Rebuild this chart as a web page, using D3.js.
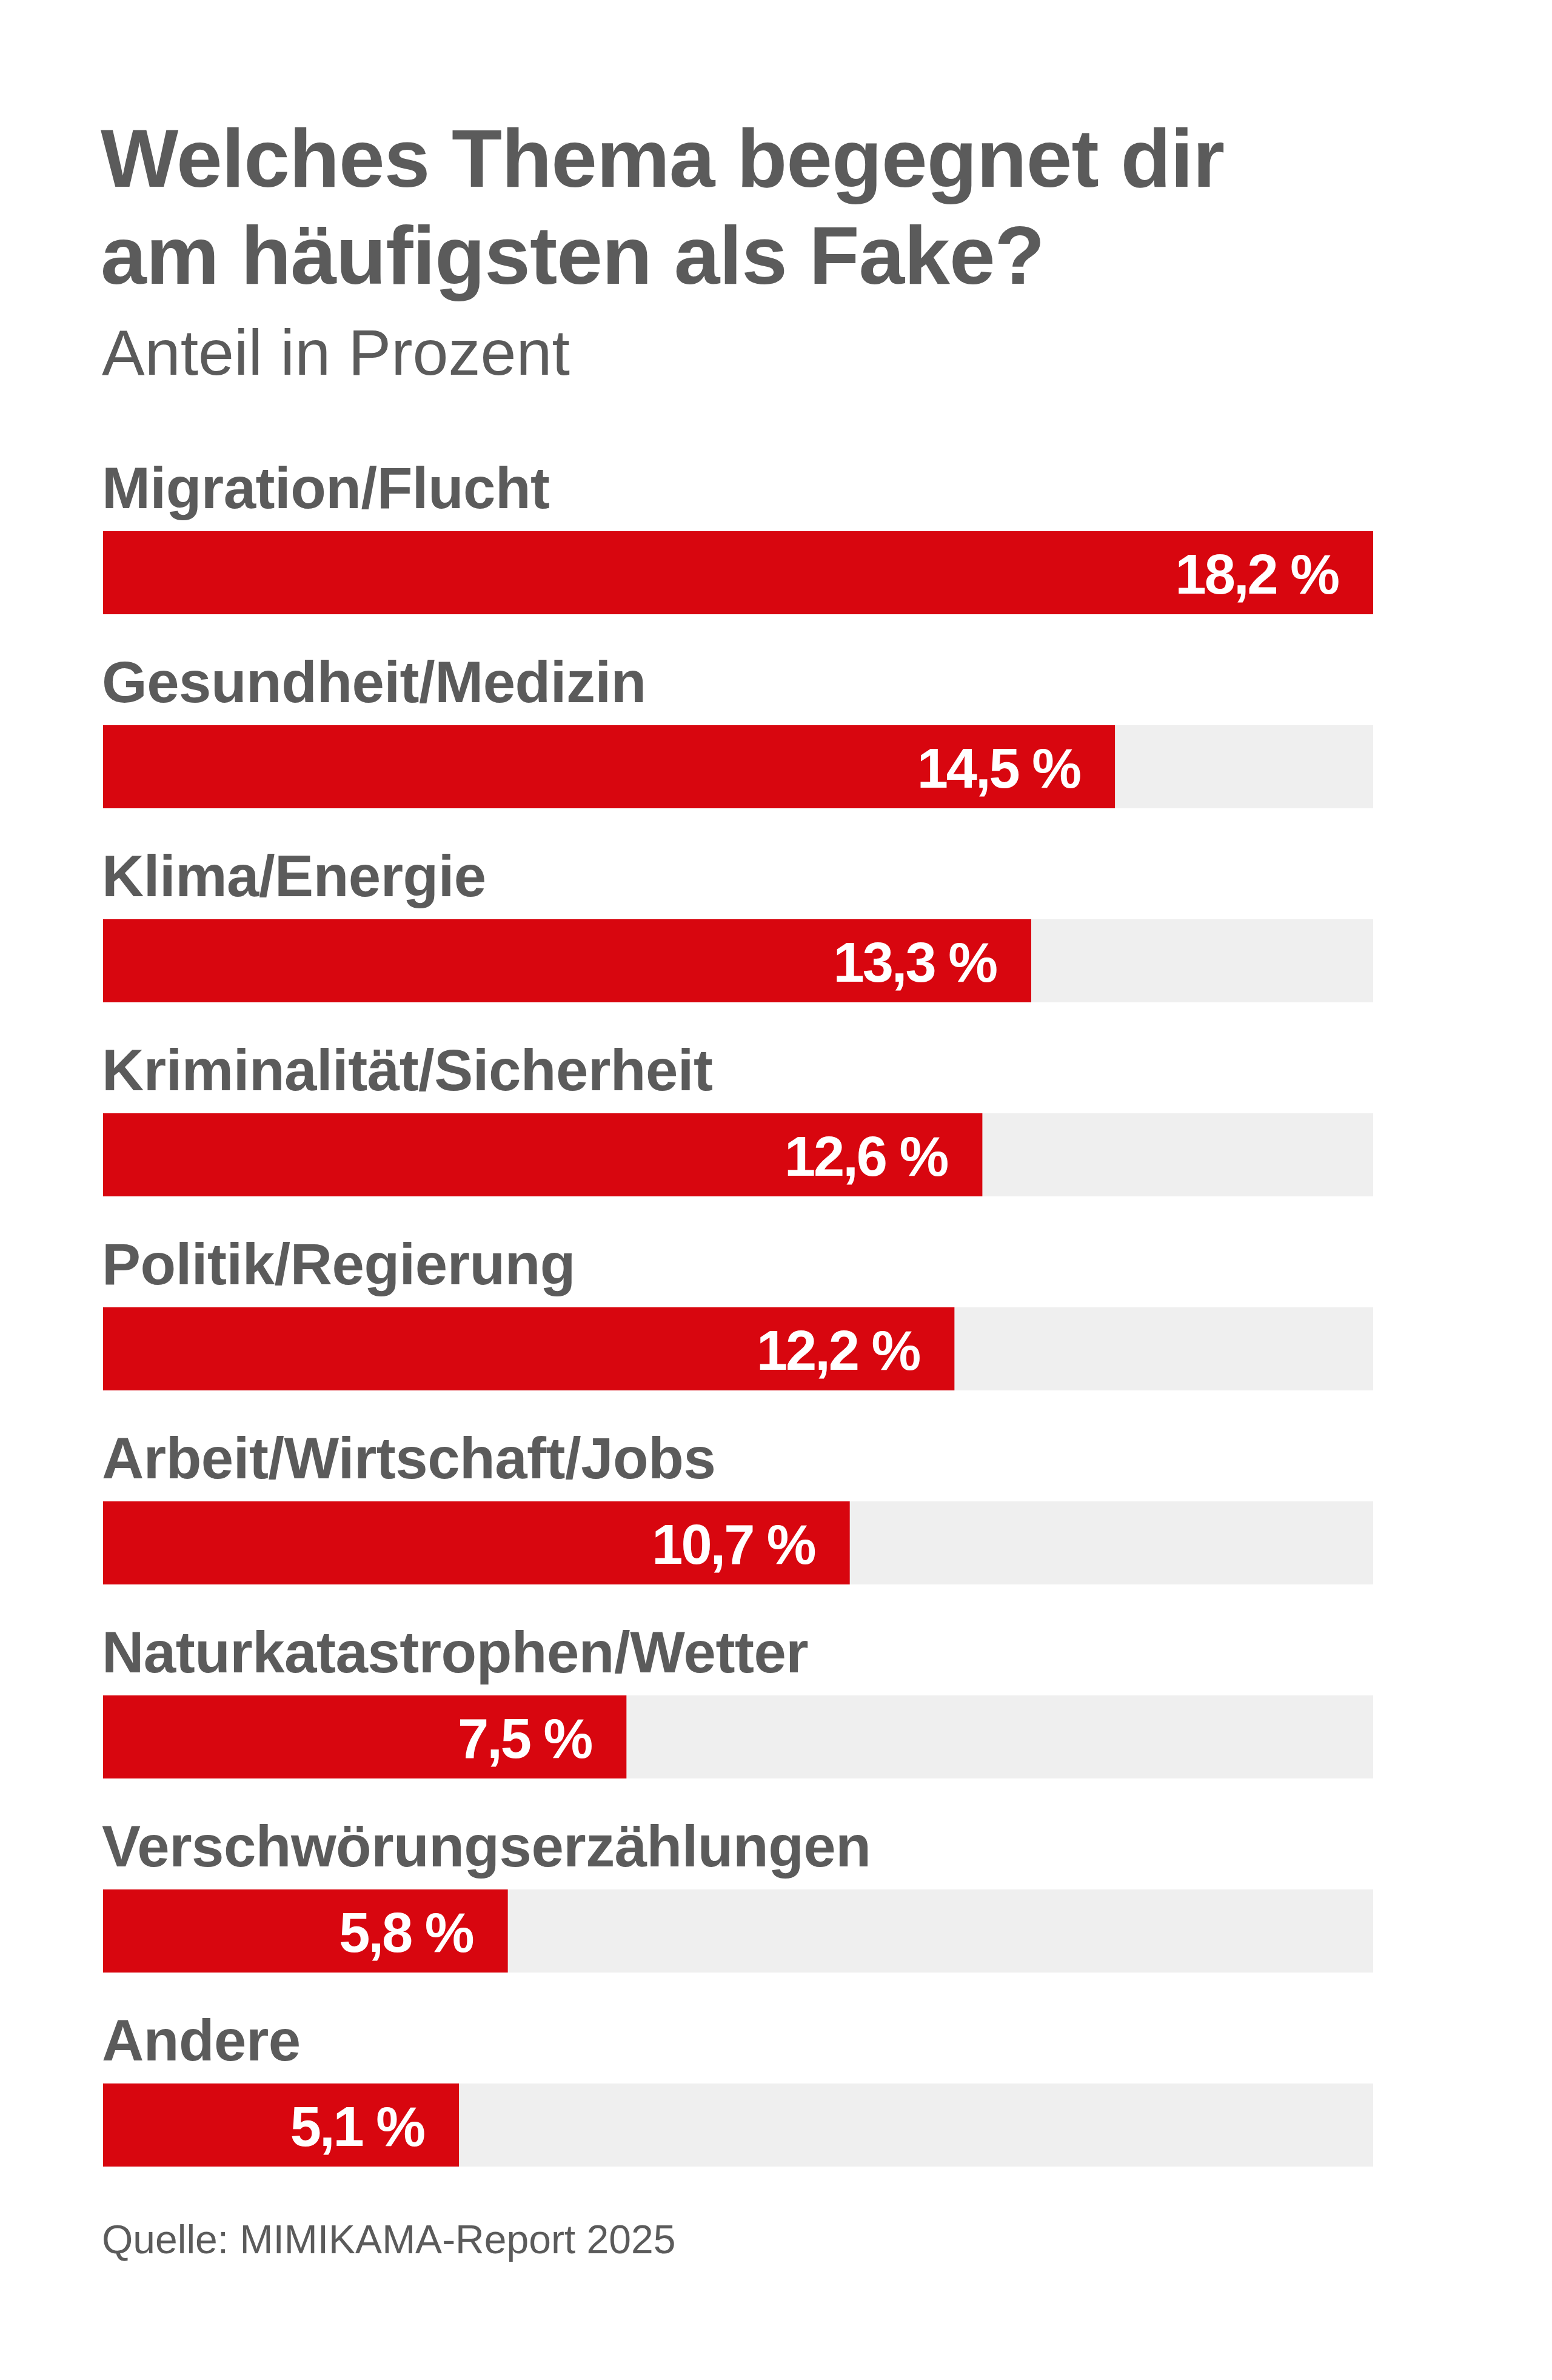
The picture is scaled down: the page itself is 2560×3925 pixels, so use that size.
<!DOCTYPE html>
<html>
<head>
<meta charset="utf-8">
<script src="https://cdn.jsdelivr.net/npm/d3@7"></script>
<style>
  html, body { margin: 0; padding: 0; background: #ffffff; }
  svg { display: block; }
</style>
</head>
<body>
<script>
const categories = [
  "Migration/Flucht",
  "Gesundheit/Medizin",
  "Klima/Energie",
  "Kriminalität/Sicherheit",
  "Politik/Regierung",
  "Arbeit/Wirtschaft/Jobs",
  "Naturkatastrophen/Wetter",
  "Verschwörungserzählungen",
  "Andere"
];
const values = [18.2, 14.5, 13.3, 12.6, 12.2, 10.7, 7.5, 5.8, 5.1];
const titleLines = ["Welches Thema begegnet dir", "am häufigsten als Fake?"];
const subtitle = "Anteil in Prozent";
const source = "Quelle: MIMIKAMA-Report 2025";

const W = 2560, H = 3925;
const left = 170, right = 2265;
const textGray = "#5b5b5b";
const red = "#d8060f";
const track = "#efefef";
const font = "'Liberation Sans', Arial, Helvetica, sans-serif";

const svg = d3.select("body").append("svg")
  .attr("width", W).attr("height", H)
  .attr("viewBox", `0 0 ${W} ${H}`);

svg.append("rect").attr("width", W).attr("height", H).attr("fill", "#fff");

// Title
svg.append("g").selectAll("text").data(titleLines).join("text")
  .attr("x", left - 4)
  .attr("y", (d, i) => 308 + i * 160)
  .attr("font-family", font)
  .attr("font-weight", 700)
  .attr("font-size", 136)
  .attr("letter-spacing", -1)
  .attr("fill", textGray)
  .text(d => d);

svg.append("text")
  .attr("x", left - 2).attr("y", 618)
  .attr("font-family", font)
  .attr("font-size", 106)
  .attr("fill", textGray)
  .text(subtitle);

const x = d3.scaleLinear().domain([0, d3.max(values)]).range([left, right]);
const y = d3.scaleBand().domain(categories).range([760, 760 + 320 * categories.length]).padding(0);

const locale = d3.formatLocale({decimal: ",", thousands: ".", grouping: [3], currency: ["", " €"]});
const fmt = locale.format(".1f");

const rows = svg.append("g").selectAll("g").data(categories).join("g")
  .attr("transform", d => `translate(0,${y(d)})`);

const barTop = 116, barH = 137;

rows.append("rect")
  .attr("x", x(0)).attr("y", barTop)
  .attr("width", x(d3.max(values)) - x(0)).attr("height", barH)
  .attr("fill", track);

rows.append("rect")
  .attr("x", x(0)).attr("y", barTop)
  .attr("width", (d, i) => x(values[i]) - x(0)).attr("height", barH)
  .attr("fill", red);

rows.append("text")
  .attr("x", left - 2).attr("y", 78)
  .attr("font-family", font)
  .attr("font-weight", 700)
  .attr("font-size", 96)
  .attr("letter-spacing", -0.5)
  .attr("fill", textGray)
  .text(d => d);

rows.append("text")
  .attr("x", (d, i) => x(values[i]) - 58)
  .attr("y", barTop + barH / 2 + 34)
  .attr("text-anchor", "end")
  .attr("font-family", font)
  .attr("font-weight", 700)
  .attr("font-size", 92)
  .attr("letter-spacing", -3)
  .attr("fill", "#ffffff")
  .text((d, i) => fmt(values[i]) + " %");

svg.append("text")
  .attr("x", left - 2).attr("y", 3716)
  .attr("font-family", font)
  .attr("font-size", 66)
  .attr("fill", textGray)
  .text(source);
</script>
</body>
</html>
